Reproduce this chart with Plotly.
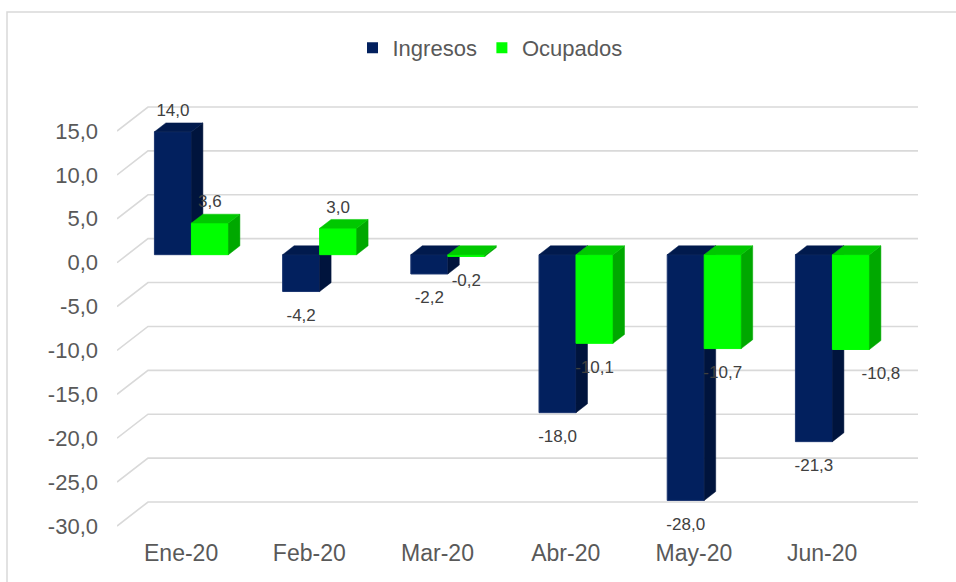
import plotly.graph_objects as go

# ---------------- data ----------------
categories = ["Ene-20", "Feb-20", "Mar-20", "Abr-20", "May-20", "Jun-20"]
ingresos = [14.0, -4.2, -2.2, -18.0, -28.0, -21.3]
ocupados = [3.6, 3.0, -0.2, -10.1, -10.7, -10.8]
y_ticks = [15, 10, 5, 0, -5, -10, -15, -20, -25, -30]
series_names = ["Ingresos", "Ocupados"]

# ---------------- style / geometry ----------------
W, H = 956, 582
L, R, T, B = 117, 38, 95, 52
PX_X = 128.2            # pixels per category
PX_Y = 395 / 45         # pixels per value unit
DX = 31 / PX_X          # floor depth (x units)
DY = 24 / PX_Y          # floor depth (value units)
F0 = 1 / 3              # bar front plane position within depth
FD = 0.37               # bar depth fraction
BW = 37 / PX_X          # bar width (x units)
FONT = "Liberation Sans, Arial, sans-serif"
GRID = "#d9d9d9"
TXT = "#595959"
LBL = "#404040"

COLORS = {
    "Ingresos": {"front": "#02205e", "side": "#00143d", "top": "#011a4d", "edge": "#1c3670"},
    "Ocupados": {"front": "#00ff00", "side": "#00a800", "top": "#00c800", "edge": "#00ff00"},
}
# manual label nudges (px) as in the original chart
LABEL_NUDGE_X = {("Ocupados", 5): 30}

x_range = [-0.5, -0.5 + (W - L - R) / PX_X]
y_range = [-30 - ((H - B) - 526) / PX_Y, 15 + (131 - T) / PX_Y]


def fmt(v):
    return f"{v:.1f}".replace(".", ",")


fig = go.Figure()

label_x, label_y, label_t = [], [], []

for s, (name, vals) in enumerate(zip(series_names, [ingresos, ocupados])):
    fx, fy, sx, sy, tx, ty = [], [], [], [], [], []
    ddx, ddy = FD * DX, FD * DY
    for i, v in enumerate(vals):
        c = i + F0 * DX
        x0 = c - BW if s == 0 else c
        x1 = x0 + BW
        base = F0 * DY
        lo, hi = base + min(v, 0), base + max(v, 0)
        fx += [x0, x1, x1, x0, x0, None]
        fy += [lo, lo, hi, hi, lo, None]
        sx += [x1, x1 + ddx, x1 + ddx, x1, x1, None]
        sy += [lo, lo + ddy, hi + ddy, hi, lo, None]
        tx += [x0, x1, x1 + ddx, x0 + ddx, x0, None]
        ty += [hi, hi, hi + ddy, hi + ddy, hi, None]
        nx = LABEL_NUDGE_X.get((name, i), 0) / PX_X
        label_x.append((x0 + x1) / 2 + nx)
        label_y.append(hi + 20 / PX_Y if v >= 0 else lo - 25 / PX_Y)
        label_t.append(fmt(v))
    col = COLORS[name]
    fig.add_trace(go.Scatter(x=fx, y=fy, mode="lines", fill="toself", fillcolor=col["front"],
                             line=dict(color=col["edge"], width=1), showlegend=False,
                             hoverinfo="skip"))
    fig.add_trace(go.Scatter(x=sx, y=sy, mode="lines", fill="toself", fillcolor=col["side"],
                             line=dict(color=col["side"], width=0.5), showlegend=False,
                             hoverinfo="skip"))
    fig.add_trace(go.Scatter(x=tx, y=ty, mode="lines", fill="toself", fillcolor=col["top"],
                             line=dict(color=col["top"], width=0.5), showlegend=False,
                             hoverinfo="skip"))

# legend entries
for name in series_names:
    fig.add_trace(go.Scatter(x=[None], y=[None], mode="markers", name=name,
                             marker=dict(symbol="square", size=11, color=COLORS[name]["front"])))

# data labels
fig.add_trace(go.Scatter(x=label_x, y=label_y, text=label_t, mode="text",
                         textposition="middle center", cliponaxis=False,
                         textfont=dict(family=FONT, size=17, color=LBL),
                         showlegend=False, hoverinfo="skip"))

# skewed gridlines (floor/back wall)
shapes = []
for v in y_ticks:
    shapes.append(dict(type="path", xref="x", yref="y", layer="below",
                       path=f"M {x_range[0]},{v} L {x_range[0] + DX},{v + DY} L {x_range[1]},{v + DY}",
                       line=dict(color=GRID, width=1.6)))
# outer chart border
pw, ph = W - L - R, H - T - B
shapes.append(dict(type="rect", xref="paper", yref="paper", layer="below",
                   x0=(7 - L) / pw, x1=(W + 10 - L) / pw,
                   y0=(H - B - (H + 10)) / ph, y1=(H - B - 12) / ph,
                   line=dict(color=GRID, width=1.5), fillcolor="rgba(0,0,0,0)"))

fig.update_layout(
    width=W, height=H,
    margin=dict(l=L, r=R, t=T, b=B),
    paper_bgcolor="white", plot_bgcolor="white",
    font=dict(family=FONT, color=TXT),
    shapes=shapes,
    showlegend=True,
    legend=dict(orientation="h", xref="container", yref="container",
                x=490 / W, xanchor="center", y=1 - 48 / H, yanchor="middle",
                font=dict(family=FONT, size=22, color=TXT), bgcolor="rgba(0,0,0,0)"),
    xaxis=dict(range=x_range, tickvals=list(range(len(categories))), ticktext=categories,
               showgrid=False, zeroline=False, showline=False, ticks="",
               tickfont=dict(family=FONT, size=23, color=TXT), ticklabelstandoff=7,
               fixedrange=True),
    yaxis=dict(range=y_range, tickvals=y_ticks, ticktext=[fmt(v) for v in y_ticks],
               showgrid=False, zeroline=False, showline=False, ticks="",
               tickfont=dict(family=FONT, size=22, color=TXT), ticklabelstandoff=18,
               fixedrange=True),
)

fig.write_html("out.html", config={"displayModeBar": False},
               post_script="document.body.style.margin='0px';")
